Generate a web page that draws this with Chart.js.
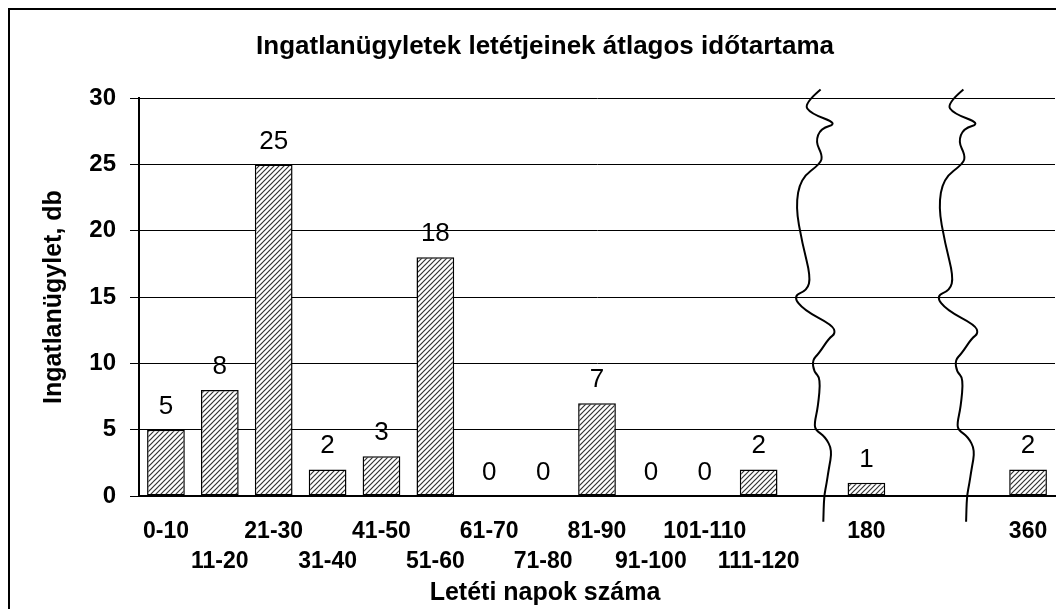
<!DOCTYPE html>
<html>
<head>
<meta charset="utf-8">
<script src="https://cdn.jsdelivr.net/npm/chart.js@4.4.0/dist/chart.umd.min.js"></script>
<style>
  html, body { margin: 0; padding: 0; background: #fff; overflow: hidden; }
  #frame { position: absolute; left: 8px; top: 8px; width: 1078px; height: 620px; border: 2px solid #000; box-sizing: border-box; }
  #wrap { position: absolute; left: 10px; top: 10px; width: 1072px; height: 616px; }
</style>
</head>
<body>
<div id="frame"></div>
<div id="wrap"><canvas id="chart"></canvas></div>
<script>
// data; '' / null = empty slots around the axis breaks
const categories = ['0-10', '11-20', '21-30', '31-40', '41-50', '51-60', '61-70', '71-80',
  '81-90', '91-100', '101-110', '111-120', '', '180', '', '', '360'];
const counts = [5, 8, 25, 2, 3, 18, 0, 0, 7, 0, 0, 2, null, 1, null, null, 2];
const yTicks = [0, 5, 10, 15, 20, 25, 30];
const breakAt = [12.15, 14.8]; // category positions of the wavy break marks

Chart.defaults.font.family = '"Liberation Sans", Arial, sans-serif';
Chart.defaults.color = '#000';

function hatch() {
  const c = document.createElement('canvas');
  c.width = c.height = 5;
  const g = c.getContext('2d');
  g.fillStyle = '#fff';
  g.fillRect(0, 0, 5, 5);
  g.strokeStyle = '#333';
  g.lineWidth = 1.2;
  g.beginPath();
  g.moveTo(-1, 6); g.lineTo(6, -1);
  g.moveTo(-1, 1); g.lineTo(1, -1);
  g.moveTo(4, 6); g.lineTo(6, 4);
  g.stroke();
  return g.createPattern(c, 'repeat');
}

// shape of one break mark: [x offset px, y value]
const wave = [[0, 30.66], [-16.7, 29.6], [-10, 28.85], [17.3, 28.09], [0, 27.72], [-5, 26.71],
  [1.7, 25.7], [0, 25.08], [-20, 23.95], [-25, 21.81], [-18.3, 19.05], [-10, 16.53],
  [-13.3, 15.53], [-27.7, 15.07], [-16.7, 14.02], [11.7, 12.89], [15, 12.26], [8.3, 11.89],
  [-1.7, 10.76], [-8.3, 10.25], [-6.7, 9.37], [0, 8.87], [-2.6, 6.73], [-6.2, 5.48],
  [-5, 4.97], [4.5, 4.47], [11.6, 3.47], [8, 1.96], [6, 0.96], [3.4, -0.05], [2.7, -1.94]];

const breakMarks = {
  id: 'breakMarks',
  afterDatasetsDraw(chart) {
    const { ctx, scales: { x, y } } = chart;
    ctx.save();
    ctx.strokeStyle = '#000';
    ctx.lineWidth = 2;
    ctx.lineJoin = 'round';
    breakAt.forEach(pos => {
      const bx = x.getPixelForValue(pos);
      const pts = wave.map(p => [bx + p[0], y.getPixelForValue(p[1])]);
      ctx.beginPath();
      ctx.moveTo(pts[0][0], pts[0][1]);
      for (let i = 1; i < pts.length - 1; i++) {
        const mx = (pts[i][0] + pts[i + 1][0]) / 2;
        const my = (pts[i][1] + pts[i + 1][1]) / 2;
        ctx.quadraticCurveTo(pts[i][0], pts[i][1], mx, my);
      }
      const last = pts[pts.length - 1];
      ctx.lineTo(last[0], last[1]);
      ctx.stroke();
    });
    ctx.restore();
  }
};

const valueLabels = {
  id: 'valueLabels',
  afterDatasetsDraw(chart) {
    const ctx = chart.ctx;
    const meta = chart.getDatasetMeta(0);
    ctx.save();
    ctx.font = '26px "Liberation Sans", Arial, sans-serif';
    ctx.fillStyle = '#000';
    ctx.textAlign = 'center';
    ctx.textBaseline = 'alphabetic';
    meta.data.forEach((bar, i) => {
      if (counts[i] === null) return;
      ctx.fillText(String(counts[i]), bar.x, bar.y - 16);
    });
    ctx.restore();
  }
};

new Chart(document.getElementById('chart'), {
  type: 'bar',
  data: {
    labels: categories,
    datasets: [{
      data: counts,
      backgroundColor: hatch(),
      borderColor: '#000',
      borderWidth: 1.5,
      borderSkipped: false,
      barPercentage: 0.7,
      categoryPercentage: 1
    }]
  },
  options: {
    responsive: true,
    maintainAspectRatio: false,
    animation: false,
    layout: { padding: { left: 25, right: 27, top: 0, bottom: 0 } },
    plugins: {
      legend: { display: false },
      tooltip: { enabled: false },
      title: {
        display: true,
        text: 'Ingatlanügyletek letétjeinek átlagos időtartama',
        font: { size: 26, weight: 'bold', lineHeight: 1.2 },
        padding: { top: 21, bottom: 36 }
      },
      subtitle: {
        display: true,
        position: 'bottom',
        text: 'Letéti napok száma',
        font: { size: 25, weight: 'bold', lineHeight: 1.2 },
        padding: { top: 0, bottom: 18 }
      }
    },
    scales: {
      x: {
        grid: { display: false, drawTicks: false },
        border: { display: true, color: '#000', width: 2 },
        ticks: {
          autoSkip: false,
          maxRotation: 0,
          minRotation: 0,
          padding: 21,
          font: { size: 23, weight: 'bold', lineHeight: 1.3 },
          callback(value, index) {
            const lab = this.getLabelForValue(value);
            return (index < 12 && index % 2 === 1) ? ['', lab] : [lab, ''];
          }
        },
        afterFit(scale) { scale.height = 82; }
      },
      y: {
        min: 0,
        max: 30,
        afterBuildTicks(scale) { scale.ticks = yTicks.map(v => ({ value: v })); },
        grid: { color: '#000', lineWidth: 1, drawTicks: true, tickLength: 9 },
        border: { display: true, color: '#000', width: 2 },
        ticks: { padding: 14, font: { size: 24, weight: 'bold' } },
        title: {
          display: true,
          text: 'Ingatlanügylet, db',
          font: { size: 25, weight: 'bold', lineHeight: 1.2 },
          padding: { top: 4, bottom: 0 }
        },
        afterFit(scale) { scale.width = 104; }
      }
    }
  },
  plugins: [valueLabels, breakMarks]
});
</script>
</body>
</html>
